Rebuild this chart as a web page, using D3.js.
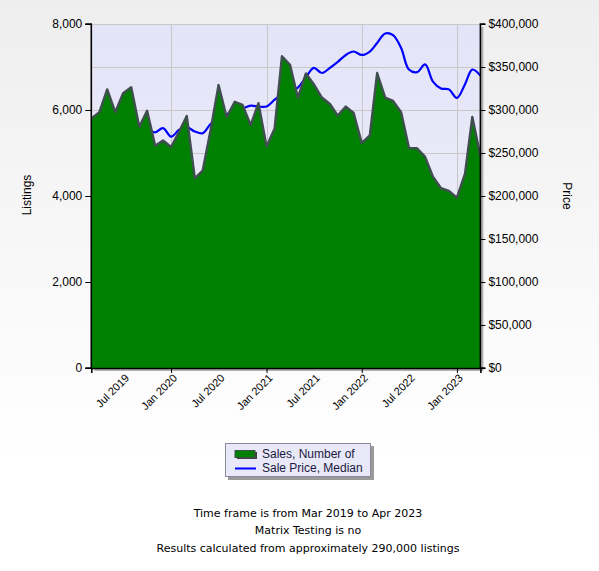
<!DOCTYPE html>
<html>
<head>
<meta charset="utf-8">
<script src="https://cdn.jsdelivr.net/npm/d3@7"></script>
<style>
  html, body { margin: 0; padding: 0; }
  body { width: 599px; height: 571px; overflow: hidden; }
  svg text { font-family: "Liberation Sans", Arial, sans-serif; }
</style>
</head>
<body>
<div class="chart"></div>
<script>
/* data */
const months = [
  '2019-03', '2019-04', '2019-05', '2019-06', '2019-07', '2019-08', '2019-09', '2019-10', '2019-11', '2019-12',
  '2020-01', '2020-02', '2020-03', '2020-04', '2020-05', '2020-06', '2020-07', '2020-08', '2020-09', '2020-10',
  '2020-11', '2020-12', '2021-01', '2021-02', '2021-03', '2021-04', '2021-05', '2021-06', '2021-07', '2021-08',
  '2021-09', '2021-10', '2021-11', '2021-12', '2022-01', '2022-02', '2022-03', '2022-04', '2022-05', '2022-06',
  '2022-07', '2022-08', '2022-09', '2022-10', '2022-11', '2022-12', '2023-01', '2023-02', '2023-03', '2023-04'
]
const sales = [
  5800, 5950, 6480, 5950, 6390, 6530, 5610, 5980, 5170, 5290,
  5140, 5500, 5860, 4410, 4590, 5550, 6580, 5830, 6190, 6120,
  5650, 6160, 5150, 5570, 7250, 7050, 6290, 6850, 6600, 6290,
  6140, 5870, 6080, 5930, 5230, 5410, 6860, 6290, 6210, 5950,
  5120, 5110, 4910, 4450, 4180, 4120, 3960, 4520, 5840, 4930
]
const medianPrice = [
  262000, 266000, 268000, 270000, 272000, 273000, 274000, 277000, 274000, 279000,
  269000, 277000, 280000, 275000, 273000, 284000, 290000, 295000, 300000, 302000,
  305000, 304000, 304000, 312000, 318000, 321000, 326000, 338000, 349000, 343000,
  349000, 356000, 364000, 368000, 364000, 368000, 378000, 389000, 387000, 372000,
  347000, 344000, 353000, 333000, 325000, 324000, 314000, 330000, 347000, 340000
]
const listingTicks = [0, 2000, 4000, 6000, 8000]
const priceTicks = [0, 50000, 100000, 150000, 200000, 250000, 300000, 350000, 400000]
const gridValues = [1000, 2000, 3000, 4000, 5000, 6000, 7000]
const labelMonths = ['2019-07', '2020-01', '2020-07', '2021-01', '2021-07', '2022-01', '2022-07', '2023-01']
const yearMonths = ['2020-01', '2021-01', '2022-01', '2023-01']
const legendNames = ['Sales, Number of', 'Sale Price, Median']
const footerLines = [
  'Time frame is from Mar 2019 to Apr 2023',
  'Matrix Testing is no',
  'Results calculated from approximately 290,000 listings'
]

const W = 599
const H = 571
const plot = { left: 91.3, right: 480.4, top: 24, bottom: 368 }
const parseMonth = d3.timeParse('%Y-%m')
const dates = months.map(parseMonth)

const svg = d3.select('.chart')
    .append('svg')
    .attr('width', W)
    .attr('height', H)

const defs = svg.append('defs')
const pageGrad = defs.append('linearGradient')
    .attr('id', 'pageGrad').attr('x1', 0).attr('y1', 0).attr('x2', 0).attr('y2', 1)
pageGrad.append('stop').attr('offset', '0%').attr('stop-color', '#eeeeee')
pageGrad.append('stop').attr('offset', '80%').attr('stop-color', '#ffffff')
const plotGrad = defs.append('linearGradient')
    .attr('id', 'plotGrad').attr('x1', 0).attr('y1', 0).attr('x2', 0).attr('y2', 1)
plotGrad.append('stop').attr('offset', '0%').attr('stop-color', '#e4e4f8')
plotGrad.append('stop').attr('offset', '100%').attr('stop-color', '#efeffa')
defs.append('clipPath').attr('id', 'plotClip')
    .append('rect')
    .attr('x', plot.left).attr('y', plot.top)
    .attr('width', plot.right - plot.left).attr('height', plot.bottom - plot.top)

svg.append('rect')
    .attr('width', W).attr('height', H)
    .style('fill', 'url(#pageGrad)')

/* scales */
const x = d3.scaleTime()
    .domain([dates[0], dates[dates.length - 1]])
    .range([plot.left, plot.right])
const yL = d3.scaleLinear().domain([0, 8000]).range([plot.bottom, plot.top])
const yR = d3.scaleLinear().domain([0, 400000]).range([plot.bottom, plot.top])

// plot shadow + background
svg.append('rect')
    .attr('x', plot.left + 3).attr('y', plot.top + 3)
    .attr('width', plot.right - plot.left).attr('height', plot.bottom - plot.top)
    .style('fill', '#b0b0b0')
svg.append('rect')
    .attr('x', plot.left).attr('y', plot.top)
    .attr('width', plot.right - plot.left).attr('height', plot.bottom - plot.top)
    .style('fill', 'url(#plotGrad)')

// grid
const grid = svg.append('g').style('stroke', '#c8c8c8').style('stroke-width', 1)
gridValues.forEach(v => {
    grid.append('line')
        .attr('x1', plot.left).attr('x2', plot.right)
        .attr('y1', Math.round(yL(v)) + 0.5).attr('y2', Math.round(yL(v)) + 0.5)
})
yearMonths.forEach(m => {
    const gx = Math.round(x(parseMonth(m))) + 0.5
    grid.append('line')
        .attr('x1', gx).attr('x2', gx)
        .attr('y1', plot.top).attr('y2', plot.bottom)
})
grid.append('line')
    .attr('x1', plot.left).attr('x2', plot.right)
    .attr('y1', plot.top + 0.5).attr('y2', plot.top + 0.5)

const body = svg.append('g').attr('clip-path', 'url(#plotClip)')

// price line under the area
const priceLine = d3.line()
    .x((d, i) => x(dates[i]))
    .y(d => yR(d))
    .curve(d3.curveCatmullRom.alpha(0.5))
body.append('path')
    .datum(medianPrice)
    .attr('d', priceLine)
    .style('fill', 'none')
    .style('stroke', '#0000ff')
    .style('stroke-width', 2.2)

// sales area
const salesArea = d3.area()
    .x((d, i) => x(dates[i]))
    .y0(plot.bottom)
    .y1(d => yL(d))
body.append('path')
    .datum(sales)
    .attr('d', salesArea)
    .style('fill', '#008000')
const salesLine = d3.line()
    .x((d, i) => x(dates[i]))
    .y(d => yL(d))
body.append('path')
    .datum(sales)
    .attr('d', salesLine)
    .style('fill', 'none')
    .style('stroke', '#3f4f4f')
    .style('stroke-width', 2.4)
    .style('stroke-linejoin', 'round')

/* axes */
const leftAxis = svg.append('g')
    .attr('transform', `translate(${plot.left},0)`)
    .call(d3.axisLeft(yL).tickValues(listingTicks).tickSize(6).tickPadding(3).tickFormat(d3.format(',')))
const rightAxis = svg.append('g')
    .attr('transform', `translate(${plot.right},0)`)
    .call(d3.axisRight(yR).tickValues(priceTicks).tickSize(5).tickPadding(3).tickFormat(d => '$' + d3.format(',')(d)))
const bottomAxis = svg.append('g')
    .attr('transform', `translate(0,${plot.bottom})`)
    .call(d3.axisBottom(x).tickValues(yearMonths.map(parseMonth)).tickSize(5).tickFormat(''))

;[leftAxis, rightAxis, bottomAxis].forEach(g => {
    g.select('.domain').style('stroke', '#000').style('stroke-width', 1.6)
    g.selectAll('.tick line').style('stroke', '#000')
    g.selectAll('.tick text')
        .style('font-size', '12px')
        .style('font-family', '"Liberation Sans", Arial, sans-serif')
        .style('fill', '#000')
})
leftAxis.select('.domain').attr('d', `M-6,${plot.top}H0V${plot.bottom}H-6`)
rightAxis.select('.domain').attr('d', `M5,${plot.top}H0V${plot.bottom}H5`)

// rotated month labels
svg.append('g')
    .selectAll('text')
    .data(labelMonths)
    .join('text')
    .attr('transform', d => `translate(${x(parseMonth(d)) + 4},${plot.bottom + 8}) rotate(-45)`)
    .attr('text-anchor', 'end')
    .attr('dy', '0.35em')
    .style('font-size', '11px')
    .style('fill', '#000')
    .text(d => d3.timeFormat('%b %Y')(parseMonth(d)))

// axis titles
svg.append('text')
    .attr('transform', 'translate(31,195) rotate(-90)')
    .attr('text-anchor', 'middle')
    .style('font-size', '12px')
    .text('Listings')
svg.append('text')
    .attr('transform', 'translate(563,196) rotate(90)')
    .attr('text-anchor', 'middle')
    .style('font-size', '12px')
    .text('Price')

/* legend */
const lg = svg.append('g').attr('transform', 'translate(225,443)')
lg.append('rect')
    .attr('x', 3).attr('y', 3).attr('width', 146).attr('height', 34)
    .style('fill', '#9a9a9a')
lg.append('rect')
    .attr('x', 0.5).attr('y', 0.5).attr('width', 145).attr('height', 33)
    .style('fill', '#e8e8f8')
    .style('stroke', '#8a8a9a')
lg.append('rect')
    .attr('x', 12).attr('y', 9).attr('width', 20).attr('height', 7)
    .style('fill', '#404040')
lg.append('rect')
    .attr('x', 10).attr('y', 7.5).attr('width', 20).attr('height', 7)
    .style('fill', '#008000')
    .style('stroke', '#3f4f4f')
    .style('stroke-width', 1)
lg.append('line')
    .attr('x1', 10).attr('x2', 31)
    .attr('y1', 25.5).attr('y2', 25.5)
    .style('stroke', '#0000ff')
    .style('stroke-width', 2)
lg.selectAll('text.leg')
    .data(legendNames)
    .join('text')
    .attr('class', 'leg')
    .attr('x', 37)
    .attr('y', (d, i) => 15 + i * 14)
    .style('font-size', '12px')
    .style('fill', '#1a1a40')
    .text(d => d)

/* footer */
svg.append('g')
    .selectAll('text')
    .data(footerLines)
    .join('text')
    .attr('x', 308)
    .attr('y', (d, i) => [517, 534, 552][i])
    .attr('text-anchor', 'middle')
    .style('font-family', '"DejaVu Sans", Verdana, sans-serif')
    .style('font-size', '11px')
    .style('fill', '#000')
    .text(d => d)
</script>
</body>
</html>
